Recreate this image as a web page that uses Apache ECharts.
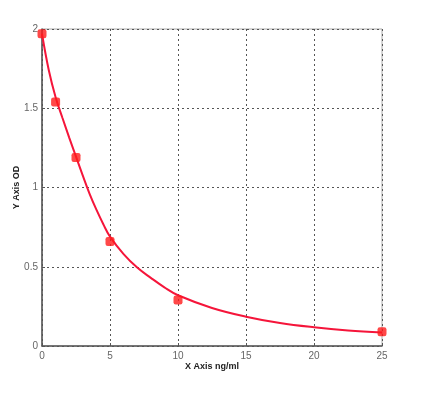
<!DOCTYPE html>
<html><head><meta charset="utf-8">
<script src="https://cdn.jsdelivr.net/npm/echarts@6/dist/echarts.min.js"></script>
<style>html,body{margin:0;padding:0;background:#fff}#c{width:435px;height:402px}</style>
</head><body><div id="c"></div>
<script>
const pointX = [0, 1, 2.5, 5, 10, 25];
const pointY = [1.97, 1.54, 1.19, 0.66, 0.29, 0.09];
const curveX = [0, 0.5, 1, 1.5, 2, 2.5, 3, 3.5, 4, 4.5, 5, 6, 7, 8, 9, 10, 12.5, 15, 17.5, 20, 22.5, 25];
const curveY = [1.97, 1.74, 1.57, 1.44, 1.315, 1.195, 1.075, 0.96, 0.86, 0.77, 0.69, 0.58, 0.495, 0.43, 0.37, 0.32, 0.24, 0.185, 0.145, 0.118, 0.098, 0.085];
const xTicks = [0, 5, 10, 15, 20, 25];
const yTicks = [0, 0.5, 1, 1.5, 2];
const xName = 'X Axis ng/ml';
const yName = 'Y Axis OD';

const chart = echarts.init(document.getElementById('c'));
const gridLine = {show: true, lineStyle: {color: '#555', type: [2, 3], width: 1}};
chart.setOption({
  animation: false,
  grid: {left: 42, right: 53, top: 29, bottom: 56, containLabel: false, outerBoundsMode: 'none',
    show: true, borderColor: '#aaa', borderWidth: 1, backgroundColor: 'transparent'},
  xAxis: {
    type: 'value', min: 0, max: 25, interval: 5,
    name: xName, nameLocation: 'middle', nameGap: 16, nameMoveOverlap: false,
    nameTextStyle: {fontFamily: 'Liberation Sans, Arial', fontWeight: 'bold', fontSize: 9, color: '#222'},
    axisLine: {show: true, lineStyle: {color: '#555', width: 1.5}},
    axisTick: {show: true, inside: true, length: 3, lineStyle: {color: '#555'}},
    axisLabel: {fontFamily: 'Liberation Sans, Arial', fontSize: 10, color: '#666', margin: 5,
      formatter: v => xTicks.includes(v) ? String(v) : ''},
    splitLine: gridLine
  },
  yAxis: {
    type: 'value', min: 0, max: 2, interval: 0.5,
    name: yName, nameLocation: 'middle', nameGap: 21, nameRotate: 90, nameMoveOverlap: false,
    nameTextStyle: {fontFamily: 'Liberation Sans, Arial', fontWeight: 'bold', fontSize: 9, color: '#222'},
    axisLine: {show: true, lineStyle: {color: '#555', width: 1.5}},
    axisTick: {show: true, inside: true, length: 3, lineStyle: {color: '#555'}},
    axisLabel: {fontFamily: 'Liberation Sans, Arial', fontSize: 10, color: '#666', margin: 4,
      formatter: v => yTicks.includes(v) ? String(v) : ''},
    splitLine: gridLine
  },
  series: [
    {type: 'line', data: curveX.map((x, i) => [x, curveY[i]]), smooth: 0.4, showSymbol: false,
      lineStyle: {color: '#f5153a', width: 2}, z: 2},
    {type: 'scatter', data: pointX.map((x, i) => [x, pointY[i]]), symbol: 'roundRect', symbolSize: 9,
      itemStyle: {color: '#ff1a1a'}, z: 3}
  ]
});
</script></body></html>
